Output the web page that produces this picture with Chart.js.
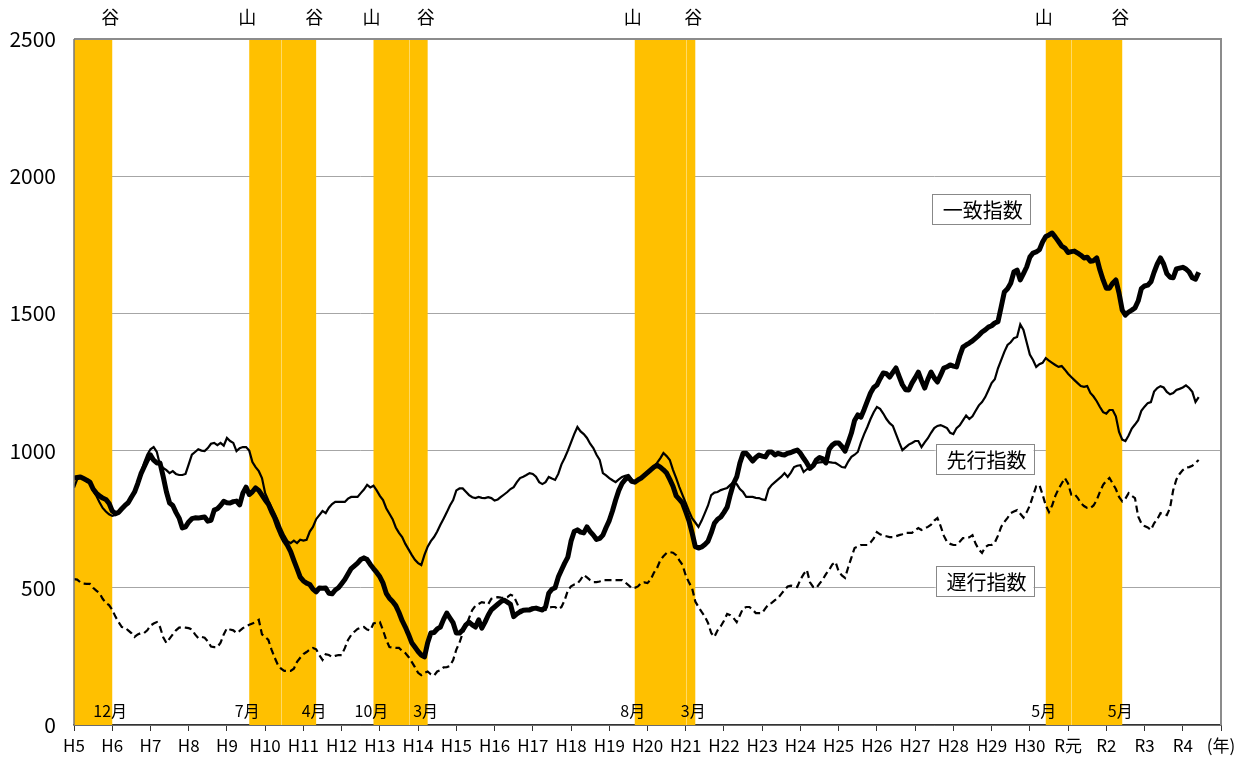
<!DOCTYPE html>
<html>
<head>
<meta charset="utf-8">
<script src="https://cdn.jsdelivr.net/npm/chart.js@4.4.0/dist/chart.umd.min.js"></script>
<style>
body{margin:0;background:#fff}
#wrap{width:1249px;height:764px}
</style>
</head>
<body>
<div id="wrap"><canvas id="chart"></canvas></div>
<script>
// monthly values, index 0 = H5 Jan
const coincident = [
900,902,904,898,892,885,860,845,835,827,822,808,
780,770,775,788,800,810,830,849,880,915,940,965,
984,965,955,955,905,850,809,800,775,754,718,722,
740,752,755,754,756,758,743,746,783,788,800,815,
810,809,814,816,802,845,867,840,850,864,855,838,
820,805,778,755,722,695,672,655,632,600,570,539,
525,517,512,495,485,499,498,499,480,478,492,500,
515,530,550,570,580,590,603,609,603,585,570,556,
540,517,480,462,450,435,410,380,357,330,300,284,
268,255,248,300,335,337,350,357,385,408,390,372,
335,335,346,365,375,365,357,383,353,375,400,420,
430,440,450,455,448,440,395,405,412,418,419,419,
424,426,422,419,430,480,495,500,539,565,590,612,
670,705,711,703,700,722,705,692,676,680,692,720,
745,780,820,855,880,895,904,888,885,893,900,910,
920,930,940,947,940,930,918,895,870,835,822,809,
778,745,700,650,645,649,658,670,700,735,750,758,
775,794,840,880,904,955,990,990,977,962,975,984,
980,977,995,995,984,990,986,984,990,993,998,1002,
990,972,955,935,945,966,975,970,955,1005,1020,1028,
1028,1015,998,1030,1064,1110,1130,1122,1150,1180,1210,1230,
1239,1262,1283,1280,1268,1285,1301,1270,1240,1222,1221,1246,
1265,1286,1255,1228,1260,1286,1265,1250,1275,1301,1305,1312,
1308,1305,1345,1377,1385,1392,1400,1410,1420,1432,1440,1450,
1455,1465,1470,1523,1578,1590,1610,1651,1658,1622,1645,1669,
1705,1720,1724,1732,1760,1780,1786,1793,1778,1762,1745,1738,
1722,1725,1727,1720,1712,1702,1705,1690,1692,1702,1658,1622,
1592,1592,1610,1622,1574,1512,1494,1505,1512,1520,1545,1590,
1600,1603,1615,1650,1680,1702,1680,1645,1632,1630,1662,1665,
1668,1662,1651,1630,1625,1650
];
const leading = [
865,895,902,900,893,882,855,835,812,791,778,768,
762,765,775,790,802,815,832,852,885,920,955,985,
1005,1013,995,947,937,929,918,925,915,911,911,915,
950,985,995,1005,1000,998,1009,1025,1028,1020,1028,1018,
1046,1035,1028,998,1009,1013,1013,1000,958,940,925,900,
845,818,794,770,745,715,690,670,663,672,663,675,
672,675,705,722,750,765,780,772,792,805,813,813,
813,813,825,831,831,831,845,858,875,866,872,855,
835,820,790,770,750,720,700,685,660,640,620,602,
590,583,620,650,670,685,705,730,752,775,800,820,
855,862,862,850,838,830,827,831,828,827,830,827,
818,822,831,840,849,860,867,885,900,905,911,918,
915,905,885,878,885,904,898,893,915,950,973,1000,
1030,1060,1086,1070,1060,1046,1025,1009,985,966,918,910,
900,892,885,895,904,908,911,895,885,890,904,910,
918,925,940,955,972,991,980,966,930,900,867,838,
809,780,754,738,722,745,772,800,838,847,849,856,
860,864,875,885,878,860,849,831,831,831,828,827,
822,820,860,875,885,895,905,918,904,920,940,945,
947,922,932,940,948,955,957,958,958,958,956,955,
948,940,938,960,977,985,995,1030,1060,1086,1115,1140,
1159,1152,1135,1115,1100,1090,1060,1030,1002,1012,1022,1028,
1035,1035,1013,1030,1045,1065,1082,1090,1093,1088,1082,1065,
1060,1082,1092,1110,1128,1115,1125,1145,1165,1177,1195,1220,
1246,1260,1300,1330,1360,1385,1395,1410,1414,1460,1440,1395,
1350,1330,1305,1315,1320,1337,1328,1320,1312,1305,1308,1295,
1280,1268,1257,1246,1235,1232,1235,1210,1197,1180,1159,1140,
1135,1148,1148,1125,1068,1040,1035,1055,1080,1095,1111,1145,
1160,1173,1177,1215,1228,1235,1230,1214,1205,1210,1221,1225,
1230,1238,1228,1214,1177,1195
];
const lagging = [
532,530,520,515,514,514,500,490,481,460,445,437,
420,395,375,357,355,345,335,321,330,335,335,345,
362,370,375,357,320,299,315,330,345,355,357,355,
353,348,330,317,321,318,305,286,284,284,300,330,
353,348,345,335,343,353,360,365,370,375,383,330,
321,310,275,245,219,205,197,197,197,205,230,245,
258,266,275,281,276,255,237,258,255,248,252,255,
255,280,310,328,340,350,355,357,348,345,370,373,
375,345,310,284,282,281,281,270,262,248,230,211,
190,182,190,195,185,180,195,200,210,211,215,237,
275,300,335,360,390,419,435,441,448,445,440,460,
464,466,464,463,466,475,470,445,419,419,420,426,
428,430,427,424,419,428,430,430,422,430,455,490,
505,512,515,530,547,538,528,521,521,523,528,528,
528,528,528,528,528,520,510,499,500,505,518,520,
517,530,555,572,600,615,627,630,628,619,600,583,
545,520,499,450,430,412,395,372,335,321,345,360,
380,405,400,390,375,400,425,430,430,420,408,408,
408,425,440,445,455,463,478,492,505,508,505,503,
530,550,565,520,503,499,515,530,550,565,585,594,
560,545,536,575,610,645,650,656,656,656,665,680,
703,695,690,688,685,685,688,692,695,700,700,700,
710,718,711,716,722,730,745,754,725,690,667,660,
656,656,668,681,681,684,692,660,640,627,648,656,
656,665,690,722,740,755,772,778,783,770,756,775,
800,835,870,875,840,800,776,800,835,860,880,900,
880,840,842,828,809,798,791,791,800,820,850,875,
890,900,880,860,831,815,825,845,835,827,760,735,
725,720,711,735,750,772,768,765,791,856,895,915,
929,938,940,945,955,966
];
const yearLabels = ["H5","H6","H7","H8","H9","H10","H11","H12","H13","H14","H15","H16","H17","H18","H19","H20","H21","H22","H23","H24","H25","H26","H27","H28","H29","H30","R元","R2","R3","R4","(年)"];
// business cycle turning points (month index)
const peakMonths = [null,54,93,175,304];
const troughMonths = [11,75,110,194,328];
const bandDividers = [65,105,192,313];
const seriesNames = ["一致指数","先行指数","遅行指数"];

const FONT = "'Noto Sans CJK JP', sans-serif";
Chart.defaults.font.family = FONT;
Chart.defaults.color = '#000';

const toXY = arr => arr.map((v,i)=>({x:i,y:v}));
const monthName = m => (m % 12 + 1) + "月";

const cyclePlugin = {
  id:'cycle',
  beforeDatasetsDraw(chart){
    const {ctx, chartArea:a, scales:{x}} = chart;
    ctx.save();
    ctx.fillStyle = '#FFC000';
    troughMonths.forEach((t,i)=>{
      const s = peakMonths[i] === null ? 0 : peakMonths[i] + 1;
      const x0 = x.getPixelForValue(s), x1 = x.getPixelForValue(t + 1);
      ctx.fillRect(x0, a.top, x1 - x0, a.bottom - a.top);
    });
    ctx.strokeStyle = '#FFD966';
    ctx.lineWidth = 1;
    bandDividers.forEach(m=>{
      const px = Math.round(x.getPixelForValue(m)) + 0.5;
      ctx.beginPath(); ctx.moveTo(px, a.top); ctx.lineTo(px, a.bottom); ctx.stroke();
    });
    ctx.restore();
  },
  afterDatasetsDraw(chart){
    const {ctx, chartArea:a, scales:{x,y}} = chart;
    ctx.save();
    // frame
    ctx.strokeStyle = '#8c8c8c'; ctx.lineWidth = 2;
    ctx.beginPath(); ctx.moveTo(a.left, a.top); ctx.lineTo(a.right, a.top); ctx.lineTo(a.right, a.bottom); ctx.stroke();
    ctx.strokeStyle = '#777'; ctx.lineWidth = 1.5;
    ctx.beginPath(); ctx.moveTo(a.left, a.top); ctx.lineTo(a.left, a.bottom); ctx.stroke();

    // 山 / 谷 and months
    ctx.fillStyle = '#000';
    ctx.textAlign = 'center';
    ctx.textBaseline = 'middle';
    const mark = (m, ch) => {
      const px = x.getPixelForValue(m + 1) - 2;
      ctx.font = "18px " + FONT;
      ctx.fillText(ch, px, a.top - 22);
      ctx.font = "16px " + FONT;
      ctx.fillText(monthName(m), px, a.bottom - 14);
    };
    troughMonths.forEach((t,i)=>{
      if (peakMonths[i] !== null) mark(peakMonths[i], '山');
      mark(t, '谷');
    });

    // series name boxes
    const boxAt = [[284.6, 1880], [285.8, 969], [285.8, 525]];
    ctx.font = "20px " + FONT;
    seriesNames.forEach((name,i)=>{
      const cx = x.getPixelForValue(boxAt[i][0]);
      const cy = y.getPixelForValue(boxAt[i][1]);
      const w = ctx.measureText(name).width + 18, h = 30;
      ctx.fillStyle = '#fff';
      ctx.fillRect(cx - w/2, cy - h/2, w, h);
      ctx.strokeStyle = '#888'; ctx.lineWidth = 1;
      ctx.strokeRect(Math.round(cx - w/2) + 0.5, Math.round(cy - h/2) + 0.5, Math.round(w), h);
      ctx.fillStyle = '#000';
      ctx.fillText(name, cx + 2, cy + 1);
    });
    ctx.restore();
  }
};

new Chart(document.getElementById('chart'), {
  type:'line',
  data:{
    datasets:[
      {label:seriesNames[2], data:toXY(lagging), borderColor:'#000', borderWidth:2.2, borderDash:[7,4], pointRadius:0, tension:0},
      {label:seriesNames[1], data:toXY(leading), borderColor:'#000', borderWidth:2.2, pointRadius:0, tension:0},
      {label:seriesNames[0], data:toXY(coincident), borderColor:'#000', borderWidth:5, pointRadius:0, tension:0, borderJoinStyle:'round'}
    ]
  },
  options:{
    responsive:true,
    maintainAspectRatio:false,
    animation:false,
    layout:{padding:{top:39, right:28, left:0, bottom:0}},
    plugins:{legend:{display:false}, tooltip:{enabled:false}},
    scales:{
      x:{
        type:'linear', min:0, max:360,
        afterFit(s){ s.height = 39; },
        border:{display:true, color:'#333', width:1.5},
        grid:{drawOnChartArea:false, drawTicks:true, tickLength:6, color:'#333'},
        ticks:{stepSize:12, autoSkip:false, maxRotation:0, padding:4, font:{size:17},
          callback:v => yearLabels[v/12]}
      },
      y:{
        min:0, max:2500,
        afterFit(s){ s.width = 74; },
        border:{display:false},
        grid:{color:'#a6a6a6', lineWidth:1, drawTicks:false},
        ticks:{stepSize:500, padding:18, font:{size:21}, callback:v => String(v)}
      }
    }
  },
  plugins:[cyclePlugin]
});
</script>
</body>
</html>
